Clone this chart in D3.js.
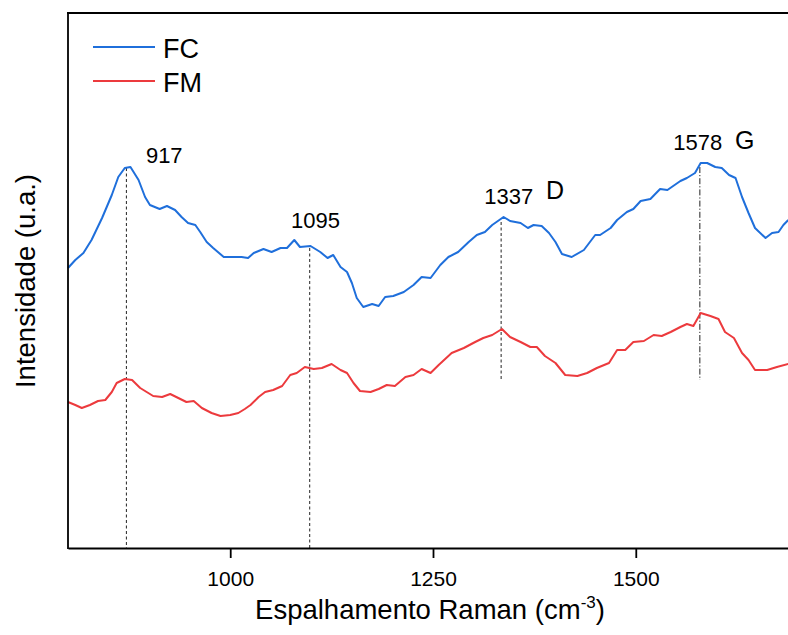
<!DOCTYPE html>
<html>
<head>
<meta charset="utf-8">
<script src="https://d3js.org/d3.v7.min.js"></script>
<style>
body { margin: 0; background: #fff; }
text { font-family: "Liberation Sans", Arial, sans-serif; fill: #000; }
.line { fill: none; stroke-width: 2px; stroke-linejoin: round; }
</style>
</head>
<body>
<script>
// Raman spectra (shift in cm-1, intensity in arbitrary units)
var fcShift = [800,809,819,829,842,854,862,870,877,887,895,901,913,922,932,940,948,957,963,971,
  979,992,1004,1014,1022,1029,1041,1051,1062,1070,1079,1086,1099,1111,1120,1127,1136,1144,1150,1156,
  1164,1175,1183,1191,1201,1214,1226,1236,1247,1259,1269,1281,1294,1304,1314,1323,1337,1345,1358,1367,
  1374,1384,1393,1401,1409,1421,1436,1450,1456,1469,1477,1489,1497,1506,1518,1530,1539,1555,1563,1573,
  1580,1588,1598,1606,1615,1623,1631,1639,1647,1660,1668,1676,1682,1688];
var fcIntensity = [280,288,295,308,330,353,371,380,381,368,351,343,339,342,338,331,325,323,316,306,
  300,291,291,291,290,295,299,296,300,300,308,301,302,296,290,293,281,276,265,250,
  241,244,242,251,252,256,263,271,270,283,291,296,306,313,316,323,331,327,325,320,
  323,322,315,306,294,291,298,313,313,320,328,336,339,347,349,359,358,367,370,375,
  385,385,381,380,373,370,351,335,320,310,315,316,323,328];

var fmShift = [800,809,817,827,837,846,854,860,870,879,889,897,905,916,926,936,946,955,965,977,
  988,1000,1010,1018,1025,1035,1043,1053,1064,1074,1082,1092,1103,1113,1125,1136,1144,1152,1160,1173,
  1183,1193,1203,1216,1226,1236,1247,1257,1273,1288,1302,1312,1323,1335,1345,1358,1370,1378,1388,1401,
  1413,1428,1440,1452,1467,1477,1487,1497,1510,1522,1532,1543,1555,1563,1571,1580,1592,1602,1610,1621,
  1631,1639,1647,1662,1674,1688];
var fmIntensity = [146,143,140,143,147,148,156,165,169,168,160,156,152,151,154,150,146,147,140,135,
  132,133,135,139,143,151,156,158,162,173,175,181,179,180,184,178,175,165,157,156,
  159,163,162,171,173,179,175,183,195,200,206,210,213,219,211,206,201,201,192,185,
  173,172,175,180,185,198,198,206,207,213,212,216,221,224,222,235,232,229,216,210,
  195,188,178,178,181,184];

// marked bands: where the guide line sits, its label, and its vertical extent
var peakShift = [872, 1098, 1334, 1579];
var peakLabel = ["917", "1095", "1337", "1578"];
var peakTop = [380, 300, 326, 381];
var peakBottom = [0, 0, 168, 168];
var bandName = ["", "", "D", "G"];

var xTicks = [1000, 1250, 1500];
var seriesNames = ["FC", "FM"];
var colors = ["#1f6fdb", "#ec3a3d"];

var W = 788, H = 635;
var x = d3.scaleLinear().domain([800, 1700]).range([68, 798]);
var y = d3.scaleLinear().domain([0, 535]).range([548, 13]);

var svg = d3.select("body").append("svg")
    .attr("width", W)
    .attr("height", H);

var line = d3.line()
    .x(function(d) { return x(d[0]); })
    .y(function(d) { return y(d[1]); });

// guide lines
var styles = ["3,2.5", "3,2.5", "3,2.5", "6,2,1.2,2"];
peakShift.forEach(function(p, i) {
  svg.append("line")
      .attr("x1", x(p)).attr("x2", x(p))
      .attr("y1", y(peakTop[i])).attr("y2", y(peakBottom[i]))
      .attr("stroke", "#222")
      .attr("stroke-width", 1)
      .attr("stroke-dasharray", styles[i]);
});

var series = [d3.zip(fcShift, fcIntensity), d3.zip(fmShift, fmIntensity)];
series.forEach(function(s, i) {
  svg.append("path")
      .datum(s)
      .attr("class", "line")
      .attr("stroke", colors[i])
      .attr("d", line);
});

// peak labels (pixel offsets from the top of each guide line)
var numOff = [[19.5, -4.7], [-18.7, -20.3], [-16.8, -18], [-26.6, -17.5]];
var bandOff = [null, null, [44.9, -22.7], [35.1, -17.7]];
peakShift.forEach(function(p, i) {
  var px = x(p), py = y(peakTop[i]);
  svg.append("text")
      .attr("x", px + numOff[i][0])
      .attr("y", py + numOff[i][1])
      .style("font-size", "22px")
      .text(peakLabel[i]);
  if (bandName[i]) {
    svg.append("text")
        .attr("x", px + bandOff[i][0])
        .attr("y", py + bandOff[i][1])
        .style("font-size", "25px")
        .text(bandName[i]);
  }
});

// axes and frame
var xAxis = svg.append("g")
    .attr("transform", "translate(0,548)")
    .call(d3.axisBottom(x).tickValues(xTicks).tickFormat(d3.format("d"))
      .tickSize(10).tickSizeOuter(0).tickPadding(13));
xAxis.select(".domain").attr("stroke-width", 1.8);
xAxis.selectAll(".tick line").attr("stroke-width", 1.8);
xAxis.selectAll(".tick text")
    .style("font-size", "21px")
    .style("font-family", "'Liberation Sans', Arial, sans-serif");

svg.append("line")
    .attr("x1", 68).attr("x2", 68).attr("y1", 12).attr("y2", 549)
    .attr("stroke", "#000").attr("stroke-width", 1.8);
svg.append("line")
    .attr("x1", 67).attr("x2", 798).attr("y1", 13).attr("y2", 13)
    .attr("stroke", "#000").attr("stroke-width", 1.8);

// axis titles
var xt = svg.append("text")
    .attr("x", 430)
    .attr("y", 619)
    .attr("text-anchor", "middle")
    .style("font-size", "27.5px")
    .text("Espalhamento Raman (cm");
xt.append("tspan").attr("dy", -11).style("font-size", "17px").text("-3");
xt.append("tspan").attr("dy", 11).text(")");

svg.append("text")
    .attr("transform", "translate(35,281) rotate(-90)")
    .attr("text-anchor", "middle")
    .style("font-size", "27.5px")
    .text("Intensidade (u.a.)");

// legend
seriesNames.forEach(function(n, i) {
  var ly = 47 + i * 34;
  svg.append("line")
      .attr("x1", 93).attr("x2", 155)
      .attr("y1", ly).attr("y2", ly)
      .attr("stroke", colors[i]).attr("stroke-width", 2);
  svg.append("text")
      .attr("x", 163)
      .attr("y", ly + 10.5)
      .style("font-size", "27px")
      .text(n);
});
</script>
</body>
</html>
